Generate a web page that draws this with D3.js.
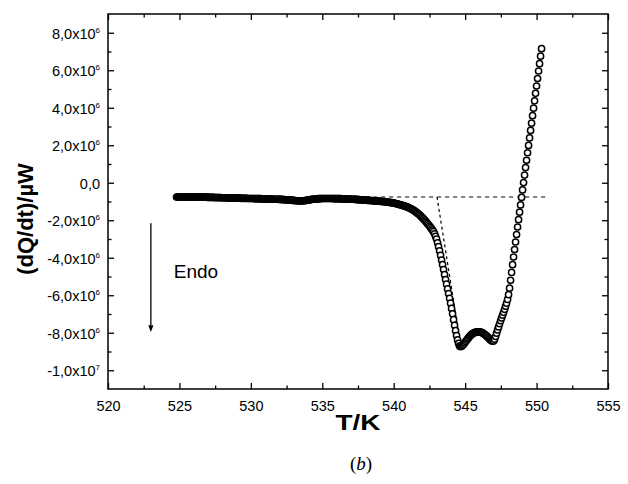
<!DOCTYPE html>
<html>
<head>
<meta charset="utf-8">
<script src="https://cdn.jsdelivr.net/npm/d3@7"></script>
<style>
  html, body { margin: 0; padding: 0; background: #fff; }
  svg { display: block; }
  text { font-family: "Liberation Sans", Arial, sans-serif; fill: #000; }
</style>
</head>
<body>
<svg id="chart" width="628" height="484"></svg>
<script>
// DSC trace: heat flow (in units of 10^6 µW) against temperature (K)
const temperature = [
  524.80,524.87,524.94,525.01,525.08,525.15,525.22,525.29,525.36,525.43,
  525.50,525.57,525.64,525.71,525.78,525.85,525.92,525.99,526.06,526.13,
  526.20,526.27,526.34,526.41,526.48,526.55,526.62,526.69,526.76,526.83,
  526.90,526.97,527.04,527.11,527.18,527.25,527.32,527.39,527.46,527.53,
  527.60,527.67,527.74,527.81,527.88,527.95,528.02,528.09,528.16,528.23,
  528.30,528.37,528.44,528.51,528.58,528.65,528.72,528.79,528.86,528.93,
  529.00,529.07,529.14,529.21,529.28,529.35,529.42,529.49,529.56,529.63,
  529.70,529.77,529.84,529.91,529.98,530.05,530.12,530.19,530.26,530.33,
  530.40,530.47,530.54,530.61,530.68,530.75,530.82,530.89,530.96,531.03,
  531.10,531.17,531.24,531.31,531.38,531.45,531.52,531.59,531.66,531.73,
  531.80,531.87,531.94,532.01,532.08,532.15,532.22,532.29,532.36,532.43,
  532.50,532.57,532.64,532.71,532.78,532.85,532.92,532.99,533.06,533.13,
  533.20,533.27,533.34,533.41,533.48,533.55,533.62,533.69,533.76,533.83,
  533.90,533.97,534.04,534.11,534.18,534.25,534.32,534.39,534.46,534.53,
  534.60,534.67,534.74,534.81,534.88,534.95,535.02,535.09,535.16,535.23,
  535.30,535.37,535.44,535.51,535.58,535.65,535.72,535.79,535.86,535.93,
  536.00,536.07,536.14,536.21,536.28,536.35,536.42,536.49,536.56,536.63,
  536.70,536.77,536.84,536.91,536.98,537.05,537.12,537.19,537.26,537.33,
  537.40,537.47,537.54,537.61,537.68,537.75,537.82,537.89,537.96,538.03,
  538.10,538.17,538.24,538.31,538.38,538.45,538.52,538.59,538.66,538.73,
  538.80,538.87,538.94,539.01,539.08,539.15,539.22,539.29,539.36,539.43,
  539.50,539.57,539.64,539.71,539.78,539.85,539.92,539.99,540.06,540.13,
  540.20,540.27,540.34,540.41,540.48,540.55,540.62,540.69,540.76,540.83,
  540.90,540.97,541.04,541.11,541.18,541.25,541.32,541.39,541.46,541.53,
  541.60,541.67,541.74,541.81,541.88,541.95,542.02,542.09,542.16,542.23,
  542.30,542.37,542.44,542.51,542.58,542.65,542.72,542.79,542.86,542.93,
  543.00,543.07,543.14,543.21,543.28,543.35,543.42,543.49,543.56,543.63,
  543.70,543.77,543.84,543.91,543.98,544.05,544.12,544.19,544.26,544.33,
  544.40,544.47,544.54,544.61,544.68,544.75,544.82,544.89,544.96,545.03,
  545.10,545.17,545.24,545.31,545.38,545.45,545.52,545.59,545.66,545.73,
  545.80,545.87,545.94,546.01,546.08,546.15,546.22,546.29,546.36,546.43,
  546.50,546.57,546.64,546.71,546.78,546.85,546.92,546.99,547.06,547.13,
  547.20,547.27,547.34,547.41,547.48,547.55,547.62,547.69,547.76,547.83,
  547.90,547.97,548.04,548.11,548.18,548.25,548.32,548.39,548.46,548.53,
  548.60,548.67,548.74,548.81,548.88,548.95,549.02,549.09,549.16,549.23,
  549.30,549.37,549.44,549.51,549.58,549.65,549.72,549.79,549.86,549.93,
  550.00,550.07,550.14,550.21,550.28,550.35
];

const heatFlow = [
  -0.76,-0.76,-0.76,-0.76,-0.76,-0.76,-0.76,-0.76,-0.76,-0.76,
  -0.76,-0.76,-0.76,-0.76,-0.76,-0.77,-0.77,-0.77,-0.77,-0.77,
  -0.77,-0.77,-0.77,-0.77,-0.77,-0.77,-0.77,-0.77,-0.77,-0.77,
  -0.77,-0.78,-0.78,-0.78,-0.78,-0.78,-0.78,-0.78,-0.79,-0.79,
  -0.79,-0.79,-0.79,-0.79,-0.79,-0.80,-0.80,-0.80,-0.80,-0.80,
  -0.80,-0.81,-0.81,-0.81,-0.81,-0.81,-0.81,-0.82,-0.82,-0.82,
  -0.82,-0.82,-0.82,-0.82,-0.83,-0.83,-0.83,-0.83,-0.83,-0.83,
  -0.83,-0.84,-0.84,-0.84,-0.84,-0.84,-0.84,-0.84,-0.85,-0.85,
  -0.85,-0.85,-0.85,-0.85,-0.85,-0.86,-0.86,-0.86,-0.86,-0.86,
  -0.86,-0.86,-0.87,-0.87,-0.87,-0.87,-0.87,-0.88,-0.88,-0.88,
  -0.88,-0.88,-0.89,-0.89,-0.89,-0.89,-0.90,-0.90,-0.90,-0.91,
  -0.91,-0.91,-0.92,-0.92,-0.93,-0.93,-0.94,-0.94,-0.95,-0.95,
  -0.96,-0.96,-0.96,-0.97,-0.97,-0.97,-0.96,-0.96,-0.95,-0.95,
  -0.94,-0.93,-0.92,-0.91,-0.90,-0.89,-0.88,-0.88,-0.87,-0.87,
  -0.86,-0.86,-0.85,-0.85,-0.85,-0.84,-0.84,-0.84,-0.84,-0.84,
  -0.84,-0.84,-0.84,-0.84,-0.84,-0.84,-0.84,-0.85,-0.85,-0.85,
  -0.85,-0.85,-0.85,-0.85,-0.85,-0.86,-0.86,-0.86,-0.86,-0.86,
  -0.87,-0.87,-0.87,-0.87,-0.88,-0.88,-0.88,-0.88,-0.89,-0.89,
  -0.89,-0.90,-0.90,-0.90,-0.91,-0.91,-0.91,-0.92,-0.92,-0.93,
  -0.93,-0.94,-0.94,-0.94,-0.95,-0.95,-0.96,-0.96,-0.97,-0.97,
  -0.98,-0.98,-0.98,-0.99,-0.99,-1.00,-1.00,-1.01,-1.01,-1.02,
  -1.03,-1.03,-1.04,-1.05,-1.06,-1.06,-1.07,-1.08,-1.09,-1.11,
  -1.12,-1.13,-1.15,-1.16,-1.18,-1.19,-1.21,-1.23,-1.24,-1.26,
  -1.27,-1.30,-1.32,-1.35,-1.38,-1.40,-1.43,-1.47,-1.50,-1.54,
  -1.58,-1.62,-1.67,-1.71,-1.76,-1.82,-1.87,-1.93,-1.99,-2.05,
  -2.11,-2.18,-2.24,-2.31,-2.38,-2.46,-2.53,-2.61,-2.72,-2.86,
  -3.00,-3.20,-3.41,-3.63,-3.87,-4.12,-4.37,-4.63,-4.90,-5.16,
  -5.41,-5.66,-5.91,-6.16,-6.42,-6.70,-6.99,-7.30,-7.60,-7.89,
  -8.15,-8.38,-8.57,-8.70,-8.74,-8.72,-8.67,-8.61,-8.54,-8.47,
  -8.40,-8.33,-8.26,-8.19,-8.14,-8.09,-8.05,-8.02,-7.99,-7.97,
  -7.96,-7.95,-7.95,-7.95,-7.96,-7.98,-8.01,-8.04,-8.08,-8.12,
  -8.17,-8.22,-8.27,-8.33,-8.38,-8.42,-8.45,-8.44,-8.34,-8.20,
  -8.02,-7.85,-7.69,-7.52,-7.36,-7.21,-7.06,-6.91,-6.75,-6.58,
  -6.42,-6.22,-5.97,-5.62,-5.20,-4.78,-4.37,-3.96,-3.56,-3.16,
  -2.76,-2.36,-1.97,-1.57,-1.18,-0.78,-0.38,0.01,0.41,0.81,
  1.20,1.60,1.99,2.39,2.79,3.18,3.58,3.98,4.37,4.77,
  5.16,5.56,5.96,6.35,6.75,7.15
];

// Axis ticks and labels
const xMajorTicks = [520, 525, 530, 535, 540, 545, 550, 555];
const xMinorTicks = [522.5, 527.5, 532.5, 537.5, 542.5, 547.5, 552.5];
const yMajorTicks = [-10, -8, -6, -4, -2, 0, 2, 4, 6, 8];
const yMinorTicks = [-9, -7, -5, -3, -1, 1, 3, 5, 7];
const yTickMantissa = ["-1,0x10", "-8,0x10", "-6,0x10", "-4,0x10", "-2,0x10", "0,0", "2,0x10", "4,0x10", "6,0x10", "8,0x10"];
const yTickExponent = ["7", "6", "6", "6", "6", "", "6", "6", "6", "6"];

// Onset construction: extrapolated baseline and leading-edge tangent
const baselineT = [538.0, 550.6];
const baselineFlow = [-0.76, -0.76];
const tangentT = [543.03, 544.63];
const tangentFlow = [-0.76, -8.40];

const plot = { left: 108, right: 608, top: 14, bottom: 389 };

const svg = d3.select("#chart");
const x = d3.scaleLinear().domain([520, 555]).range([plot.left, plot.right]);
const y = d3.scaleLinear().domain([-11, 9]).range([plot.bottom, plot.top]);

// Dashed construction lines (under the markers)
const dashLine = d3.line().x(d => x(d[0])).y(d => y(d[1]));
svg.append("path")
  .attr("d", dashLine(baselineT.map((t, i) => [t, baselineFlow[i]])))
  .attr("fill", "none").attr("stroke", "#000").attr("stroke-width", 1.2)
  .attr("stroke-dasharray", "4,4");
svg.append("path")
  .attr("d", dashLine(tangentT.map((t, i) => [t, tangentFlow[i]])))
  .attr("fill", "none").attr("stroke", "#000").attr("stroke-width", 1.2)
  .attr("stroke-dasharray", "3,3");

// Open-circle markers
const points = temperature.map((t, i) => ({ t, q: heatFlow[i] }));
svg.append("g")
  .selectAll("circle")
  .data(points)
  .join("circle")
  .attr("cx", d => x(d.t))
  .attr("cy", d => y(d.q))
  .attr("r", 3.1)
  .attr("fill", "#fff")
  .attr("stroke", "#000")
  .attr("stroke-width", 1.5);

// Frame
svg.append("rect")
  .attr("x", plot.left).attr("y", plot.top)
  .attr("width", plot.right - plot.left).attr("height", plot.bottom - plot.top)
  .attr("fill", "none").attr("stroke", "#000").attr("stroke-width", 1.5);

// Inward ticks on all four sides
function tickAxes(axisFn, scale, values, size, transform) {
  const g = svg.append("g").attr("transform", transform)
    .call(axisFn(scale).tickValues(values).tickSize(size).tickFormat(""));
  g.select(".domain").remove();
  g.selectAll(".tick line").attr("stroke", "#000").attr("stroke-width", 1.3);
  return g;
}
tickAxes(d3.axisBottom, x, xMajorTicks, -6, `translate(0,${plot.bottom})`);
tickAxes(d3.axisBottom, x, xMinorTicks, -3.5, `translate(0,${plot.bottom})`);
tickAxes(d3.axisTop, x, xMajorTicks, -6, `translate(0,${plot.top})`);
tickAxes(d3.axisTop, x, xMinorTicks, -3.5, `translate(0,${plot.top})`);
tickAxes(d3.axisLeft, y, yMajorTicks, -6, `translate(${plot.left},0)`);
tickAxes(d3.axisLeft, y, yMinorTicks, -3.5, `translate(${plot.left},0)`);
tickAxes(d3.axisRight, y, yMajorTicks, -6, `translate(${plot.right},0)`);
tickAxes(d3.axisRight, y, yMinorTicks, -3.5, `translate(${plot.right},0)`);

// X tick labels
const xLab = svg.append("g").attr("transform", `translate(0,${plot.bottom})`)
  .call(d3.axisBottom(x).tickValues(xMajorTicks).tickSize(0).tickPadding(0)
    .tickFormat(d3.format("d")));
xLab.select(".domain").remove();
xLab.selectAll(".tick text")
  .attr("y", 22).attr("dy", null)
  .style("font-size", "14.5px")
  .style("font-family", "'Liberation Sans', Arial, sans-serif");

// Y tick labels with superscript exponents
const yLab = svg.append("g").attr("transform", `translate(${plot.left},0)`)
  .call(d3.axisLeft(y).tickValues(yMajorTicks).tickSize(0).tickPadding(0).tickFormat(""));
yLab.select(".domain").remove();
yLab.selectAll(".tick").each(function(d) {
  const i = yMajorTicks.indexOf(d);
  const t = d3.select(this).select("text")
    .attr("x", -8).attr("dy", null).attr("y", 5.5)
    .attr("text-anchor", "end")
    .style("font-size", "14.5px")
    .style("font-family", "'Liberation Sans', Arial, sans-serif");
  t.text(null);
  t.append("tspan").text(yTickMantissa[i]);
  if (yTickExponent[i]) {
    t.append("tspan").attr("dy", -6).style("font-size", "8px").text(yTickExponent[i]);
  }
});

// Axis titles
svg.append("text")
  .attr("x", x(537.5)).attr("y", 430)
  .attr("text-anchor", "middle")
  .attr("textLength", 45).attr("lengthAdjust", "spacingAndGlyphs")
  .style("font-size", "22px").style("font-weight", "bold")
  .text("T/K");

svg.append("text")
  .attr("transform", `translate(33,${219}) rotate(-90)`)
  .attr("text-anchor", "middle")
  .style("font-size", "22px").style("font-weight", "bold")
  .text("(dQ/dt)/µW");

// Endothermic direction marker
svg.append("line")
  .attr("x1", x(523)).attr("x2", x(523))
  .attr("y1", y(-2.16)).attr("y2", y(-7.6))
  .attr("stroke", "#000").attr("stroke-width", 1.3);
svg.append("path")
  .attr("d", `M${x(523) - 2.6},${y(-7.6)} L${x(523) + 2.6},${y(-7.6)} L${x(523)},${y(-7.96)} Z`)
  .attr("fill", "#000");
svg.append("text")
  .attr("x", x(524.6)).attr("y", 278)
  .style("font-size", "19px")
  .text("Endo");

// Panel caption
const cap = svg.append("text")
  .attr("x", x(537.5) + 3).attr("y", 470)
  .attr("text-anchor", "middle")
  .style("font-family", "'Liberation Serif', 'Times New Roman', serif")
  .style("font-size", "19px");
cap.append("tspan").text("(");
cap.append("tspan").style("font-style", "italic").text("b");
cap.append("tspan").text(")");
</script>
</body>
</html>
